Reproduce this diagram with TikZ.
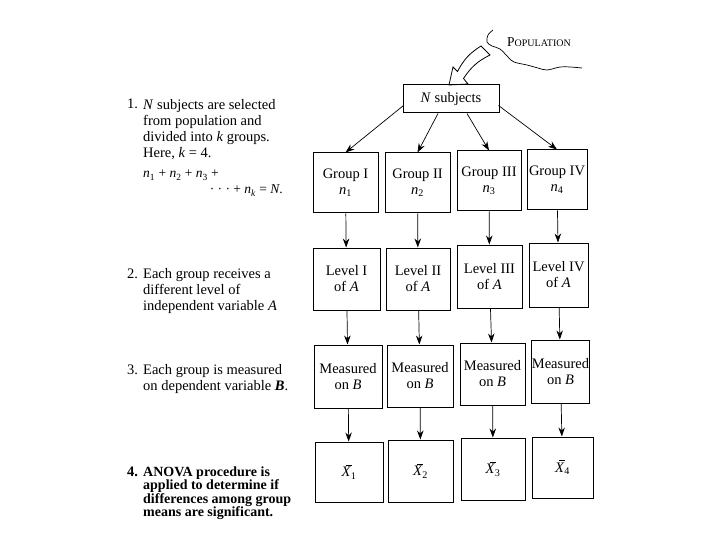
\documentclass[tikz,border=0pt]{standalone}
\usepackage{fontspec}
\setmainfont{Liberation Serif}
\usetikzlibrary{arrows.meta,calc}
\newcommand{\fsbox}{\fontsize{14.5}{16}\selectfont}
\newcommand{\fsleft}{\fontsize{14.5}{16}\selectfont}
\newcommand{\iv}[1]{\textit{#1}}
\newcommand{\xb}{\makebox[0pt][l]{\hspace{4.3pt}\rule[11.5pt]{6pt}{0.6pt}}\iv{X}}
\begin{document}
\begin{tikzpicture}[x=1pt,y=-1pt,
  box/.style={draw, line width=1pt, inner sep=0pt, align=center, font=\fsbox, minimum height=61pt},
  conn/.style={line width=0.7pt, -{Stealth[length=9pt,width=6.5pt]}},
  body/.style={anchor=north west, inner sep=0pt, align=left, font=\fsleft},
  numb/.style={anchor=base west, inner sep=0pt, font=\fsleft}]
\useasboundingbox (0,0) rectangle (720,540);
\fill[white] (0,0) rectangle (720,540);

% Population squiggle and hollow arrow
\draw[line width=0.7pt] plot[smooth, tension=0.6] coordinates {(493,30) (488,35) (487,42) (492,46) (500,49) (508,57) (514,62) (527,65) (538,68) (547,70) (560,67) (570,67) (582,68)};
\node[inner sep=0pt] (pop) at (539,42) {{\fontsize{13.5}{14}\selectfont P}{\fontsize{10}{11}\selectfont OPULATION}};
\draw[line width=0.8pt, line join=miter] (449,85) -- (453,67) -- (457.5,71.5) to[bend left=15] (481,46) -- (490,55) to[bend right=15] (463.5,78.5) -- (468,84) -- cycle;

% N subjects
\node[box, minimum width=96pt, minimum height=28pt] (ns) at (451,99) {\iv{N} subjects};

% Groups
\node[box, minimum width=65pt, minimum height=60pt] (g1) at (345.5,183) {Group I\\ \iv{n}\textsubscript{1}};
\node[box, minimum width=65pt, minimum height=60pt] (g2) at (417.5,183) {Group II\\ \iv{n}\textsubscript{2}};
\node[box, minimum width=64pt, minimum height=60pt] (g3) at (489,181) {Group III\\ \iv{n}\textsubscript{3}};
\node[box, minimum width=60pt, minimum height=60pt] (g4) at (557,180) {Group IV\\ \iv{n}\textsubscript{4}};

% Levels
\node[box, minimum width=67pt, minimum height=62pt] (l1) at (346.5,279) {Level I\\ of \iv{A}};
\node[box, minimum width=64pt, minimum height=62pt] (l2) at (418,279) {Level II\\ of \iv{A}};
\node[box, minimum width=65pt, minimum height=63pt] (l3) at (489.5,276.5) {Level III\\ of \iv{A}};
\node[box, minimum width=59pt, minimum height=64pt] (l4) at (558.5,275) {Level IV\\ of \iv{A}};

% Measured
\node[box, minimum width=68pt, minimum height=63pt] (m1) at (348,376.5) {Measured\\ on \iv{B}};
\node[box, minimum width=66pt, minimum height=62pt] (m2) at (420,376) {Measured\\ on \iv{B}};
\node[box, minimum width=65pt, minimum height=62pt] (m3) at (492.5,374) {Measured\\ on \iv{B}};
\node[box, minimum width=58pt, minimum height=63pt] (m4) at (560.5,371.5) {Measured\\ on \iv{B}};

% Means
\node[box, minimum width=68pt, minimum height=60pt] (x1) at (349,472) {\xb\textsubscript{1}};
\node[box, minimum width=65pt, minimum height=62pt] (x2) at (420.5,471) {\xb\textsubscript{2}};
\node[box, minimum width=64pt, minimum height=62pt] (x3) at (493,469) {\xb\textsubscript{3}};
\node[box, minimum width=61pt, minimum height=61pt] (x4) at (562.5,467.5) {\xb\textsubscript{4}};

% connectors from N subjects
\draw[conn] ($(ns.south west)+(1,-8)$) -- (g1.north);
\draw[conn] ($(ns.south)+(-13,0)$) -- (g2.north);
\draw[conn] ($(ns.south)+(16,0)$) -- (g3.north);
\draw[conn] ($(ns.south east)+(-1,-8)$) -- (g4.north);

% vertical connectors
\foreach \a/\b in {g1/l1,g2/l2,g3/l3,g4/l4,l1/m1,l2/m2,l3/m3,l4/m4,m1/x1,m2/x2,m3/x3,m4/x4}
  \draw[conn] (\a) -- (\b);

% left texts
\node[numb] (t1n) at (127,109) {1.};
\node[body] (t1) at (143,99.5) {\iv{N} subjects are selected\\ from population and\\ divided into \iv{k} groups.\\ Here, \iv{k} = 4.};
\node[inner sep=0pt, anchor=base west, font=\fontsize{13.5}{15}\selectfont] (f1) at (143,178) {\iv{n}\textsubscript{1} + \iv{n}\textsubscript{2} + \iv{n}\textsubscript{3} +};
\node[inner sep=0pt, anchor=base east, font=\fontsize{13.5}{15}\selectfont] (f2) at (283,194) {· · · + \iv{n}\textsubscript{\iv{k}} = \iv{N}.};

\node[numb] (t2n) at (127,278) {2.};
\node[body] (t2) at (143,268.5) {Each group receives a\\ different level of\\ independent variable \iv{A}};

\node[numb] (t3n) at (127,374) {3.};
\node[body] (t3) at (143,364.5) {Each group is measured\\ on dependent variable \textbf{\iv{B}}.};

\node[numb, font=\fsleft\bfseries] (t4n) at (127,476) {4.};
\node[body, font=\fontsize{14}{13.5}\selectfont\bfseries] (t4) at (143,466.5) {ANOVA procedure is\\ applied to determine if\\ differences among group\\ means are significant.};
\end{tikzpicture}
\end{document}
